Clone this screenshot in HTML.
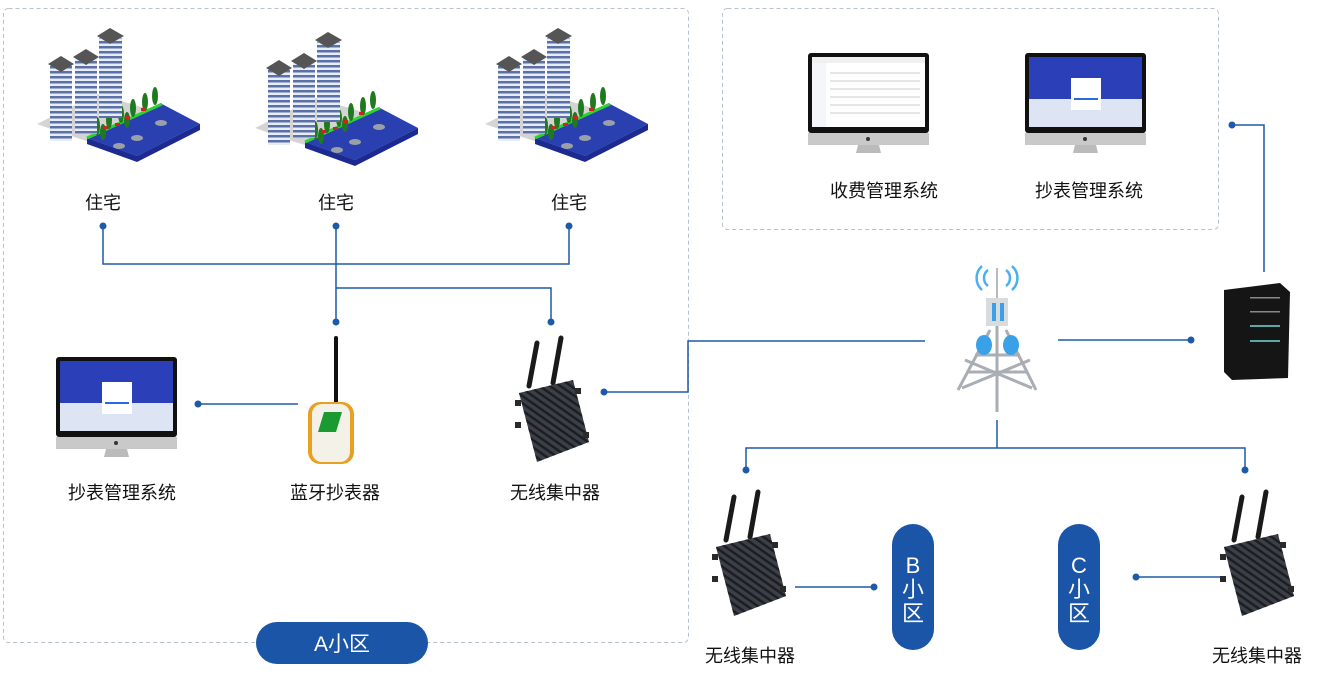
<!DOCTYPE html>
<html><head><meta charset="utf-8"><style>
html,body{margin:0;padding:0;background:#fff;}
svg{display:block;}
text{font-family:"Liberation Sans","Noto Sans CJK SC",sans-serif;}
</style></head><body>
<svg width="1344" height="692" viewBox="0 0 1344 692" xmlns="http://www.w3.org/2000/svg">
<defs>
<pattern id="stripe" width="6" height="5" patternUnits="userSpaceOnUse"><rect width="6" height="2.5" fill="#5a70a8"/></pattern>
<pattern id="diag" width="6" height="6" patternUnits="userSpaceOnUse" patternTransform="rotate(35)"><rect width="6" height="2.5" fill="#1c1e22"/></pattern>
<g id="bld">
 <polygon points="0,98 60,68 163,98 100,130 40,112" fill="#d4d4d4"/>
 <polygon points="50,112 125,78 163,98 100,130" fill="#2a3fb0"/>
 <polygon points="50,112 100,130 100,136 50,118" fill="#1a2a90"/>
 <polygon points="100,130 163,98 163,104 100,136" fill="#1a2a90"/>
 <line x1="50" y1="112" x2="125" y2="78" stroke="#2fd02f" stroke-width="3"/>
 <g fill="#1f7a1f"><ellipse cx="60" cy="100" rx="3" ry="9"/><ellipse cx="72" cy="94" rx="3" ry="9"/><ellipse cx="84" cy="88" rx="3" ry="9"/><ellipse cx="96" cy="82" rx="3" ry="9"/><ellipse cx="108" cy="76" rx="3" ry="9"/><ellipse cx="118" cy="70" rx="3" ry="9"/><ellipse cx="66" cy="106" rx="3" ry="8"/><ellipse cx="90" cy="94" rx="3" ry="8"/></g>
 <g fill="#d52020"><rect x="66" y="100" width="5" height="3"/><rect x="88" y="90" width="5" height="3"/><rect x="104" y="82" width="5" height="3"/><rect x="78" y="97" width="5" height="3"/></g>
 <g fill="#9aa0a8"><ellipse cx="82" cy="120" rx="6" ry="3"/><ellipse cx="100" cy="112" rx="6" ry="3"/><ellipse cx="124" cy="97" rx="6" ry="3"/></g>
 <rect x="13" y="40" width="22" height="75" fill="#e8ecf4"/><rect x="13" y="40" width="22" height="75" fill="url(#stripe)"/>
 <polygon points="11,38 24,30 37,38 24,46" fill="#555"/>
 <rect x="38" y="33" width="22" height="75" fill="#e8ecf4"/><rect x="38" y="33" width="22" height="75" fill="url(#stripe)"/>
 <polygon points="36,31 49,23 62,31 49,39" fill="#555"/>
 <rect x="62" y="12" width="23" height="80" fill="#e8ecf4"/><rect x="62" y="12" width="23" height="80" fill="url(#stripe)"/>
 <polygon points="60,10 73,2 87,10 73,18" fill="#555"/>
</g>
<g id="mon">
 <rect x="0" y="0" width="121" height="80" rx="3" fill="#111"/>
 <rect x="4" y="4" width="113" height="70" fill="#2a3fb8"/>
 <rect x="4" y="46" width="113" height="28" fill="#dde4f4"/>
 <rect x="46" y="25" width="30" height="32" fill="#fff"/>
 <rect x="49" y="45" width="24" height="2" fill="#2a6ae0"/>
 <rect x="0" y="80" width="121" height="12" fill="#c9c9c9"/>
 <circle cx="60" cy="86" r="2" fill="#333"/>
 <polygon points="50,92 71,92 73,100 48,100" fill="#bbb"/>
</g>
<g id="mon2">
 <rect x="0" y="0" width="121" height="80" rx="3" fill="#111"/>
 <rect x="4" y="4" width="113" height="70" fill="#fff"/>
 <rect x="4" y="4" width="113" height="6" fill="#f0f0f0"/>
 <rect x="4" y="10" width="14" height="64" fill="#f4f6fa"/>
 <g stroke="#ccc" stroke-width="1"><line x1="22" y1="20" x2="112" y2="20"/><line x1="22" y1="28" x2="112" y2="28"/><line x1="22" y1="36" x2="112" y2="36"/><line x1="22" y1="44" x2="112" y2="44"/><line x1="22" y1="52" x2="112" y2="52"/><line x1="22" y1="60" x2="112" y2="60"/></g>
 <rect x="0" y="80" width="121" height="12" fill="#c9c9c9"/>
 <circle cx="60" cy="86" r="2" fill="#333"/>
 <polygon points="50,92 71,92 73,100 48,100" fill="#bbb"/>
</g>
<g id="conc">
 <line x1="14" y1="48" x2="22" y2="5" stroke="#1a1a1a" stroke-width="5" stroke-linecap="round"/>
 <line x1="38" y1="45" x2="46" y2="0" stroke="#1a1a1a" stroke-width="5" stroke-linecap="round"/>
 <polygon points="4,55 58,42 74,104 22,124" fill="#3b3f47"/>
 <polygon points="4,55 58,42 74,104 22,124" fill="url(#diag)"/>
 <rect x="0" y="62" width="6" height="6" fill="#2a2a2a"/><rect x="0" y="84" width="6" height="6" fill="#2a2a2a"/><rect x="68" y="94" width="6" height="6" fill="#2a2a2a"/><rect x="60" y="50" width="6" height="6" fill="#2a2a2a"/>
</g>
</defs>

<rect x="3.5" y="8.5" width="685" height="634" rx="5" fill="none" stroke="#b8c2cc" stroke-dasharray="4 3"/>
<rect x="722.5" y="8.5" width="496" height="221" rx="5" fill="none" stroke="#b8c2cc" stroke-dasharray="4 3"/>

<use href="#bld" x="37" y="26"/>
<use href="#bld" x="255" y="30"/>
<use href="#bld" x="485" y="26"/>

<g font-size="18" fill="#111" text-anchor="middle">
<text x="103" y="209">住宅</text><text x="336" y="209">住宅</text><text x="569" y="209">住宅</text>
<text x="884" y="197">收费管理系统</text><text x="1089" y="197">抄表管理系统</text>
<text x="122" y="499">抄表管理系统</text><text x="335" y="499">蓝牙抄表器</text><text x="555" y="499">无线集中器</text>
<text x="750" y="662">无线集中器</text><text x="1257" y="662">无线集中器</text>
</g>

<g stroke="#1f5aa8" stroke-width="1.5" fill="none">
<path d="M103,226V264H569V226 M336,226V321 M336,288H551V321"/>
<path d="M198,404H298"/>
<path d="M604,392H688V341H925"/>
<path d="M1058,340H1191"/>
<path d="M1232,125H1264V272"/>
<path d="M997,420V448 M746,470V448H1245V470"/>
<path d="M795,587H874"/>
<path d="M1136,577H1222"/>
</g>
<g fill="#1f5aa8">
<circle cx="103" cy="226" r="3.5"/><circle cx="336" cy="226" r="3.5"/><circle cx="569" cy="226" r="3.5"/>
<circle cx="336" cy="322" r="3.5"/><circle cx="551" cy="322" r="3.5"/>
<circle cx="198" cy="404" r="3.5"/><circle cx="604" cy="392" r="3.5"/>
<circle cx="1191" cy="340" r="3.5"/><circle cx="1232" cy="125" r="3.5"/>
<circle cx="746" cy="470" r="3.5"/><circle cx="1245" cy="470" r="3.5"/>
<circle cx="874" cy="587" r="3.5"/><circle cx="1136" cy="577" r="3.5"/>
</g>

<use href="#mon2" x="808" y="53"/>
<use href="#mon" x="1025" y="53"/>
<use href="#mon" x="56" y="357"/>

<line x1="336" y1="338" x2="336" y2="405" stroke="#111" stroke-width="4" stroke-linecap="round"/>
<rect x="308" y="402" width="46" height="62" rx="12" fill="#e8a020"/>
<rect x="312" y="404" width="38" height="58" rx="10" fill="#f4f2e8"/>
<polygon points="324,412 342,412 336,432 318,432" fill="#1a9a30"/>

<use href="#conc" x="515" y="338"/>
<use href="#conc" x="712" y="492"/>
<use href="#conc" x="1220" y="492"/>

<g stroke="#a8aeb4" stroke-width="3" fill="none">
<path d="M990,330L958,390 M1006,330L1036,390 M997,300V412 M968,372L1026,372 M975,355L1020,355 M962,388L1030,360 M1032,388L965,360"/>
</g>
<line x1="997" y1="268" x2="997" y2="300" stroke="#bbb" stroke-width="2"/>
<rect x="986" y="298" width="22" height="28" fill="#d8dcdf"/>
<rect x="992" y="303" width="4" height="18" fill="#3aa0e8"/><rect x="1000" y="303" width="4" height="18" fill="#3aa0e8"/>
<ellipse cx="984" cy="345" rx="8" ry="10" fill="#3aa0e8"/><ellipse cx="1011" cy="345" rx="8" ry="10" fill="#3aa0e8"/>
<g stroke="#4ab0f0" stroke-width="2.5" fill="none">
<path d="M988,270a10,10 0 0 0 0,16 M982,266a16,16 0 0 0 0,24 M1006,270a10,10 0 0 1 0,16 M1012,266a16,16 0 0 1 0,24"/>
</g>

<polygon points="1224,290 1280,283 1290,292 1288,378 1232,380 1224,372" fill="#151515"/>
<g fill="#5aa8a8"><rect x="1250" y="325" width="30" height="2"/><rect x="1250" y="340" width="30" height="2"/></g>
<g fill="#888"><rect x="1250" y="297" width="30" height="1.5"/><rect x="1250" y="311" width="30" height="1.5"/></g>

<rect x="256" y="622" width="172" height="42" rx="21" fill="#1a55a8"/>
<text x="342" y="651" font-size="21" fill="#fff" text-anchor="middle">A小区</text>
<rect x="892" y="524" width="42" height="126" rx="21" fill="#1a55a8"/>
<rect x="1058" y="524" width="42" height="126" rx="21" fill="#1a55a8"/>
<g font-size="22" fill="#fff" text-anchor="middle">
<text x="913" y="573">B</text><text x="913" y="597">小</text><text x="913" y="621">区</text>
<text x="1079" y="573">C</text><text x="1079" y="597">小</text><text x="1079" y="621">区</text>
</g>
</svg>
</body></html>
